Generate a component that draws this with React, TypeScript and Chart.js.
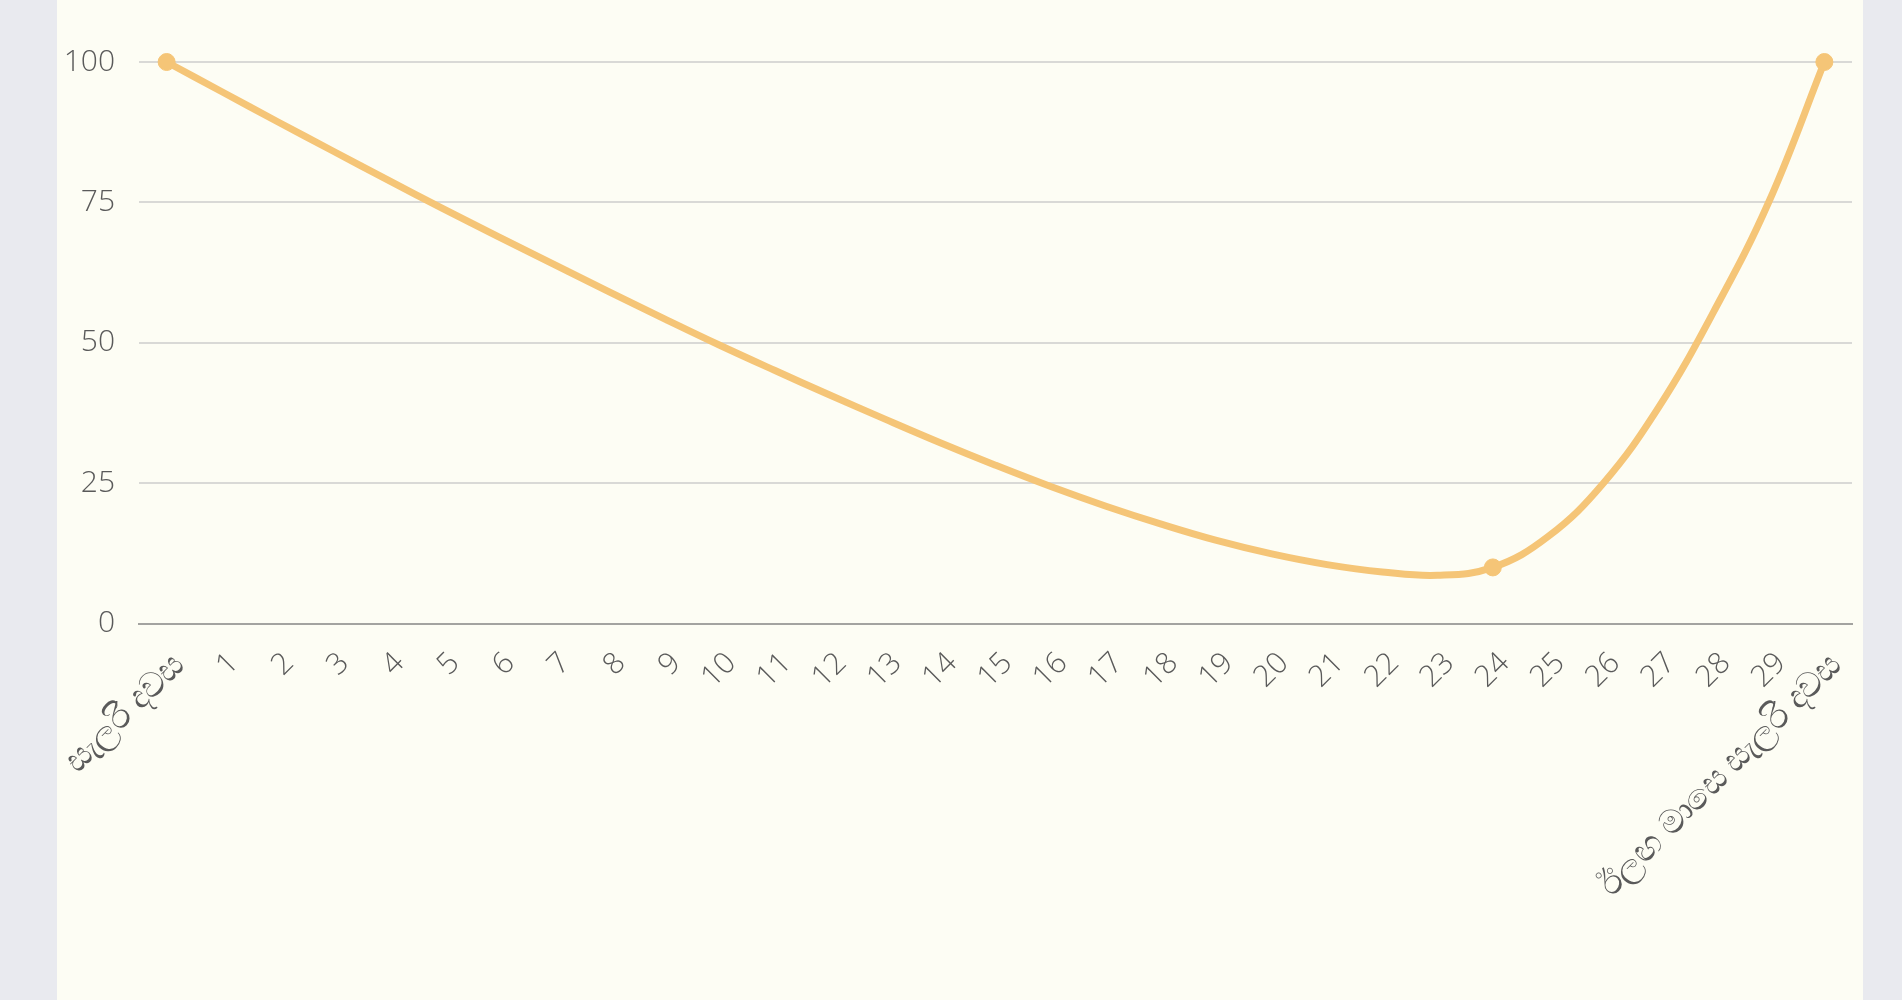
import React, { useEffect, useRef } from 'react';
import Chart from 'chart.js/auto';

// x categories: salary day, day numbers, next month's salary day
const dayLabels: string[] = [
  'සැලරි දවස',
  '1', '2', '3', '4', '5', '6', '7', '8', '9', '10',
  '11', '12', '13', '14', '15', '16', '17', '18', '19', '20',
  '21', '22', '23', '24', '25', '26', '27', '28', '29',
  'ඊලඟ මාසෙ සැලරි දවස',
];

// balance (%) per day
const balanceValues: number[] = [
  100,
  94.7, 89.4, 84.2, 79.0, 73.9, 68.9, 64.0, 59.1, 54.3, 49.6,
  45.1, 40.7, 36.4, 32.2, 28.2, 24.4, 20.9, 17.7, 14.8, 12.4,
  10.5, 9.2, 8.6, 10, 15.5, 25, 38.5, 55.6, 75.2,
  100,
];

// days that get a visible marker
const markedDays: number[] = [0, 24, 30];

const yTicks: number[] = [0, 25, 50, 75, 100];

const LINE_COLOR = '#f5c577';
const TEXT_COLOR = '#5a5a5a';

const App: React.FC = () => {
  const chartRef = useRef<HTMLCanvasElement>(null);
  const chartInstance = useRef<Chart | null>(null);

  useEffect(() => {
    if (!chartRef.current) return;
    if (chartInstance.current) chartInstance.current.destroy();
    const ctx = chartRef.current.getContext('2d');
    if (!ctx) return;

    const family = "'Open Sans', 'Noto Sans', sans-serif";
    const font = { family, size: 30, weight: 300 as const };
    const lastIndex = dayLabels.length - 1;

    chartInstance.current = new Chart(ctx, {
      type: 'line',
      data: {
        labels: dayLabels,
        datasets: [
          {
            data: balanceValues,
            borderColor: LINE_COLOR,
            backgroundColor: LINE_COLOR,
            borderWidth: 7,
            pointRadius: balanceValues.map((_, i) => (markedDays.includes(i) ? 8.5 : 0)),
            pointBorderWidth: 1,
            pointBackgroundColor: LINE_COLOR,
            pointBorderColor: LINE_COLOR,
            tension: 0.4,
            fill: false,
            clip: false,
          },
        ],
      },
      options: {
        animation: false,
        responsive: true,
        maintainAspectRatio: false,
        layout: { padding: { top: 62, left: 8, right: 11, bottom: 80 } },
        plugins: {
          legend: { display: false },
          tooltip: { enabled: false },
        },
        scales: {
          x: {
            offset: true,
            grid: { display: false },
            border: { display: true, color: '#a3a3a0', width: 2 },
            afterFit: (scale) => {
              scale.paddingLeft = 0;
              scale.paddingRight = 0;
            },
            ticks: {
              color: TEXT_COLOR,
              font: (c) =>
                c.index === 0 || c.index === lastIndex
                  ? { family, size: 34, weight: 300 }
                  : font,
              minRotation: 45,
              maxRotation: 45,
              autoSkip: false,
              padding: 14,
              labelOffset: 12,
            },
          },
          y: {
            min: 0,
            max: 100,
            afterBuildTicks: (axis) => {
              axis.ticks = yTicks.map((v) => ({ value: v }));
            },
            afterFit: (scale) => {
              scale.width = 74;
            },
            grid: {
              color: '#d9d9d6',
              lineWidth: 2,
              drawTicks: false,
            },
            border: { display: false },
            ticks: {
              color: TEXT_COLOR,
              font,
              padding: 24,
            },
          },
        },
      },
    });

    return () => {
      if (chartInstance.current) {
        chartInstance.current.destroy();
        chartInstance.current = null;
      }
    };
  }, []);

  return (
    <div style={{ position: 'fixed', inset: 0, background: '#e9eaef', overflow: 'hidden' }}>
      <div
        style={{
          position: 'absolute',
          left: 57,
          top: 0,
          width: 1806,
          height: 1000,
          background: '#fdfdf4',
        }}
      >
        <div style={{ position: 'relative', width: 1806, height: 1000 }}>
          <canvas ref={chartRef} />
        </div>
      </div>
    </div>
  );
};

export default App;
